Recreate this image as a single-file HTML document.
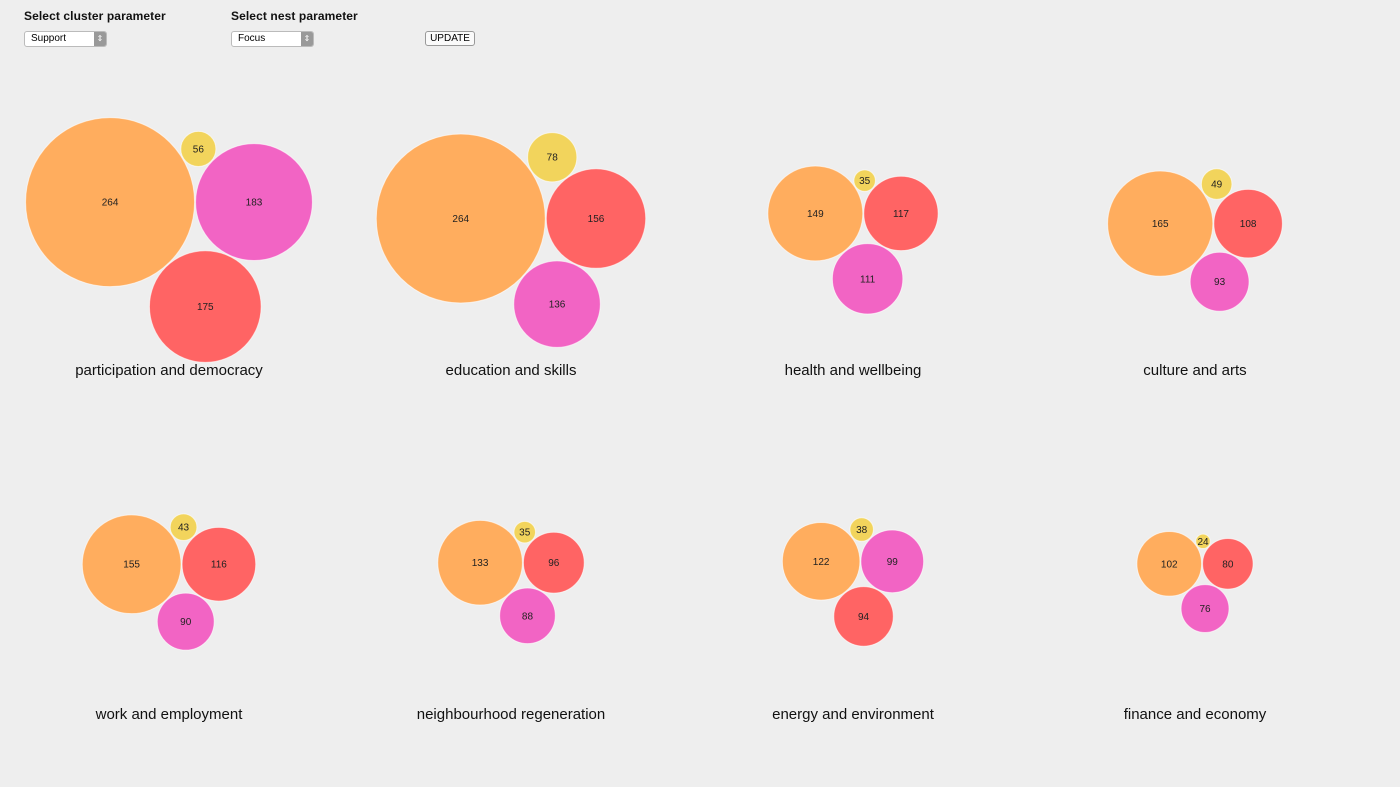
<!DOCTYPE html>
<html><head><meta charset="utf-8">
<style>
body{margin:0;width:1400px;height:787px;background:#eeeeee;font-family:"Liberation Sans",sans-serif;overflow:hidden;position:relative}
.lbl{position:absolute;font-size:12px;color:#111;font-weight:bold;letter-spacing:0.1px}
.sel{position:absolute;background:#fff;border:1px solid #bbb;border-radius:3px;font-size:10px;line-height:14px;padding-left:6px;box-sizing:border-box;height:16px}
.sel .arr{position:absolute;right:0;top:0;width:12px;height:14px;background:#999;border-radius:0 2px 2px 0;color:#fff;font-size:8px;text-align:center;line-height:14px}
.btn{position:absolute;left:425px;top:31px;width:50px;height:15px;border:1px solid #999;border-radius:3px;background:#fafafa;font-size:10px;text-align:center;line-height:14px;box-sizing:border-box}
</style></head><body>
<div class="lbl" style="left:24px;top:9px">Select cluster parameter</div>
<div class="lbl" style="left:231px;top:9px">Select nest parameter</div>
<div class="sel" style="left:24px;top:31px;width:83px">Support<span class="arr">⇕</span></div>
<div class="sel" style="left:231px;top:31px;width:83px">Focus<span class="arr">⇕</span></div>
<div class="btn">UPDATE</div>
<svg id="chart" width="1400" height="787" style="position:absolute;left:0;top:0"></svg>
<script>
const clusters=["participation and democracy","education and skills","health and wellbeing","culture and arts","work and employment","neighbourhood regeneration","energy and environment","finance and economy"];
// values: orange, yellow, pink, red
const orangeVals=[264,264,149,165,155,133,122,102];
const yellowVals=[56,78,35,49,43,35,38,24];
const pinkVals=[183,136,111,93,90,88,99,76];
const redVals=[175,156,117,108,116,96,94,80];
const colors={orange:"#FFAD5E",yellow:"#F2D45C",pink:"#F264C4",red:"#FF6464"};
const rScale=v=>v*0.322;
const svg=document.getElementById('chart');
const NS="http://www.w3.org/2000/svg";
function tangent(a,b,rc,side){
  const dab=Math.hypot(b.x-a.x,b.y-a.y),dac=a.r+rc,dbc=b.r+rc;
  const x=(dac*dac-dbc*dbc+dab*dab)/(2*dab);
  const h=Math.sqrt(Math.max(0,dac*dac-x*x));
  const ux=(b.x-a.x)/dab,uy=(b.y-a.y)/dab;
  return {x:a.x+ux*x+side*(-uy)*h,y:a.y+uy*x+side*ux*h,r:rc};
}
clusters.forEach((name,i)=>{
  const col=i%4,row=Math.floor(i/4);
  const cx=169+col*342,cy=row?582:240,ly=row?714:370;
  const items=[{k:'orange',v:orangeVals[i]},{k:'yellow',v:yellowVals[i]},{k:'pink',v:pinkVals[i]},{k:'red',v:redVals[i]}];
  const o=items[0],rest=items.slice(2).sort((a,b)=>b.v-a.v);
  const big=rest[0],small=rest[1],y=items[1];
  o.p={x:0,y:0,r:rScale(o.v)};
  big.p={x:o.p.r+rScale(big.v),y:0,r:rScale(big.v)};
  y.p=tangent(o.p,big.p,rScale(y.v),-1);
  small.p=tangent(o.p,big.p,rScale(small.v),1);
  let x0=1e9,x1=-1e9,y0=1e9,y1=-1e9;
  items.forEach(it=>{x0=Math.min(x0,it.p.x-it.p.r);x1=Math.max(x1,it.p.x+it.p.r);y0=Math.min(y0,it.p.y-it.p.r);y1=Math.max(y1,it.p.y+it.p.r);});
  const dx=cx-(x0+x1)/2,dy=cy-(y0+y1)/2;
  const g=document.createElementNS(NS,'g');
  
  
  svg.appendChild(g);
  items.forEach(it=>{
    const c=document.createElementNS(NS,'circle');
    c.setAttribute('cx',it.p.x+dx);c.setAttribute('cy',it.p.y+dy);c.setAttribute('r',it.p.r-0.5);
    c.setAttribute('fill',colors[it.k]);c.setAttribute('stroke','#fff');c.setAttribute('stroke-opacity','0.6');
    
    
    g.appendChild(c);
    const t=document.createElementNS(NS,'text');
    t.setAttribute('x',it.p.x+dx);t.setAttribute('y',it.p.y+dy+3.5);
    t.setAttribute('text-anchor','middle');t.setAttribute('font-size','10');t.setAttribute('fill','#222');
    t.setAttribute('font-family','Liberation Sans, sans-serif');
    
    
    t.textContent=it.v;g.appendChild(t);
  });
  const l=document.createElementNS(NS,'text');
  l.setAttribute('x',cx);l.setAttribute('y',ly+5);l.setAttribute('text-anchor','middle');
  l.setAttribute('font-size','15');l.setAttribute('fill','#111');l.setAttribute('font-family','Liberation Sans, sans-serif');
  
  
  l.textContent=name;g.appendChild(l);
});
</script>
</body></html>
